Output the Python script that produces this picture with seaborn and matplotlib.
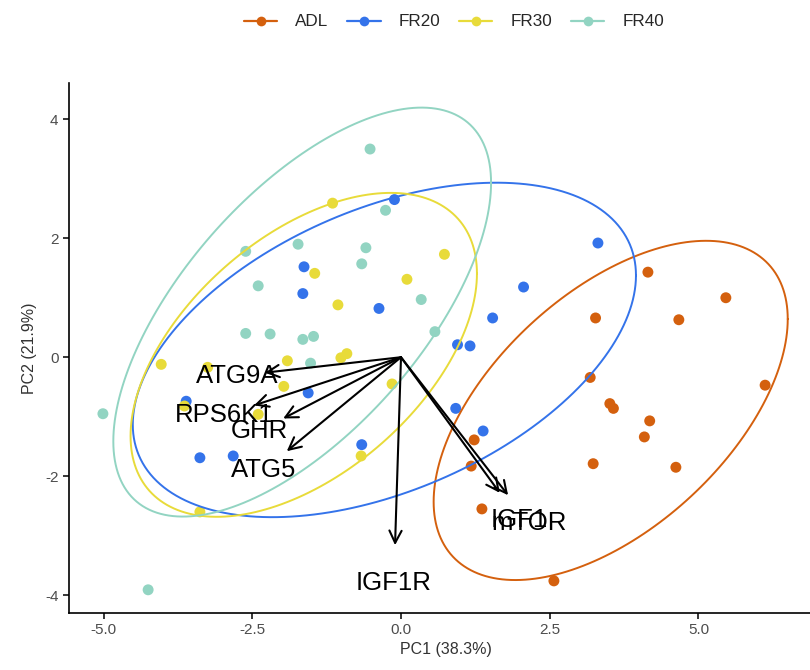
import numpy as np
import pandas as pd
import matplotlib
matplotlib.use("Agg")
import matplotlib.pyplot as plt
import seaborn as sns
from matplotlib.lines import Line2D

# --- sample scores on the first two principal components -------------------
groups = ["ADL", "FR20", "FR30", "FR40"]

adl_pc1 = [4.15, 5.46, 4.67, 3.27, 6.12, 3.18, 3.51, 3.57, 4.18, 4.09, 1.23, 3.23, 4.62, 1.18, 1.36, 2.57]
adl_pc2 = [1.43, 1.00, 0.63, 0.66, -0.47, -0.34, -0.78, -0.86, -1.07, -1.34, -1.39, -1.79, -1.85, -1.83, -2.55, -3.76]

fr20_pc1 = [3.31, 2.06, 1.54, 0.95, 1.16, 0.92, 1.38, -0.11, -1.63, -1.65, -0.37, -1.56, -3.61, -3.38, -2.82, -0.66]
fr20_pc2 = [1.92, 1.18, 0.66, 0.21, 0.19, -0.86, -1.24, 2.65, 1.52, 1.07, 0.82, -0.60, -0.74, -1.69, -1.66, -1.47]

fr30_pc1 = [0.73, 0.10, -1.15, -1.45, -1.06, -4.03, -3.25, -1.91, -1.01, -0.91, -1.97, -0.15, -3.64, -2.40, -0.67, -3.38]
fr30_pc2 = [1.73, 1.31, 2.59, 1.41, 0.88, -0.12, -0.17, -0.06, -0.01, 0.06, -0.49, -0.45, -0.82, -0.96, -1.66, -2.60]

fr40_pc1 = [0.34, 0.57, -0.52, -0.26, -2.61, -1.73, -0.59, -0.66, -2.40, -2.61, -2.20, -1.65, -1.47, -1.52, -5.01, -4.25]
fr40_pc2 = [0.97, 0.43, 3.50, 2.47, 1.78, 1.90, 1.84, 1.57, 1.20, 0.40, 0.39, 0.30, 0.35, -0.10, -0.95, -3.91]

# --- variable loadings (scaled to the score space) -------------------------
genes = ["ATG9A", "RPS6K1", "GHR", "ATG5", "IGF1R", "IGF1", "mTOR"]
load_pc1 = [-2.29, -2.47, -1.98, -1.92, -0.10, 1.66, 1.80]
load_pc2 = [-0.26, -0.81, -1.03, -1.58, -3.16, -2.28, -2.32]
label_push = 1.2

ellipse_level = 0.85

palette = {"ADL": "#D4600E", "FR20": "#3473EA", "FR30": "#E8DB3A", "FR40": "#92D4C2"}

x_ticks = [-5.0, -2.5, 0.0, 2.5, 5.0]
y_ticks = [-4, -2, 0, 2, 4]

scores = pd.concat([
    pd.DataFrame({"PC1": adl_pc1, "PC2": adl_pc2, "Group": "ADL"}),
    pd.DataFrame({"PC1": fr20_pc1, "PC2": fr20_pc2, "Group": "FR20"}),
    pd.DataFrame({"PC1": fr30_pc1, "PC2": fr30_pc2, "Group": "FR30"}),
    pd.DataFrame({"PC1": fr40_pc1, "PC2": fr40_pc2, "Group": "FR40"}),
], ignore_index=True)


def ellipse_path(xy, level=0.95, segments=200):
    """Normal-theory data ellipse (same construction as stat_ellipse type='norm')."""
    center = xy.mean(axis=0)
    shape = np.cov(xy, rowvar=False)
    dfd = len(xy) - 1
    qf = dfd / 2.0 * ((1 - level) ** (-2.0 / dfd) - 1)   # F(2, dfd) quantile
    radius = np.sqrt(2 * qf)
    U = np.linalg.cholesky(shape).T
    ang = np.linspace(0, 2 * np.pi, segments + 1)
    circle = np.column_stack([np.cos(ang), np.sin(ang)])
    return center + radius * circle @ U


sns.set_theme(style="ticks")
plt.rcParams["font.family"] = ["Liberation Sans", "DejaVu Sans"]

fig = plt.figure(figsize=(8.1, 6.7), dpi=100)
# the panel runs slightly past the right edge of the canvas
ax = fig.add_axes([69 / 810, 57 / 670, 753 / 810, 530 / 670])

sns.scatterplot(data=scores, x="PC1", y="PC2", hue="Group", hue_order=groups,
                palette=palette, s=62, linewidth=0, legend=False, ax=ax, zorder=2)

for g in groups:
    sub = scores[scores["Group"] == g][["PC1", "PC2"]].to_numpy()
    e = ellipse_path(sub, level=ellipse_level)
    ax.plot(e[:, 0], e[:, 1], color=palette[g], lw=1.4, zorder=3)

for gname, lx, ly in zip(genes, load_pc1, load_pc2):
    ax.annotate("", xy=(lx, ly), xytext=(0, 0),
                arrowprops=dict(arrowstyle="->", color="black", lw=1.5,
                                mutation_scale=22, shrinkA=0, shrinkB=0),
                zorder=4)
    ax.text(lx * label_push, ly * label_push, gname, ha="center", va="center",
            fontsize=18.5, color="black", zorder=5)

ax.set_xlim(-5.58, 7.076)
ax.set_ylim(-4.30, 4.61)
ax.set_xticks(x_ticks)
ax.set_xticklabels([f"{v:.1f}" for v in x_ticks])
ax.set_yticks(y_ticks)
ax.set_yticklabels([str(v) for v in y_ticks])
ax.tick_params(axis="both", labelsize=11, colors="black", labelcolor="#4D4D4D",
               length=4, width=1.1)
ax.set_xlabel("PC1 (38.3%)", fontsize=11.5, color="#333333", labelpad=3)
ax.set_ylabel("PC2 (21.9%)", fontsize=11.5, color="#333333", labelpad=6)
for side in ["left", "bottom"]:
    ax.spines[side].set_color("black")
    ax.spines[side].set_linewidth(1.2)
sns.despine(ax=ax)

handles = [Line2D([0], [0], color=palette[g], lw=1.6, marker="o", markersize=7,
                  markeredgewidth=0) for g in groups]
fig.legend(handles, groups, loc="center", bbox_to_anchor=(454 / 810, 1 - 22 / 670),
           ncol=4, frameon=False, fontsize=12.3, handlelength=1.95,
           handletextpad=1.05, columnspacing=1.1)

fig.savefig("out.png", dpi=100)
